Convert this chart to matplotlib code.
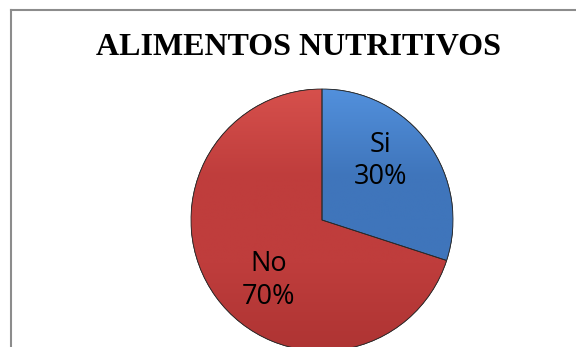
import numpy as np
import matplotlib
matplotlib.use("Agg")
import matplotlib.pyplot as plt
from matplotlib.patches import Wedge
from matplotlib.lines import Line2D

# Data
categories = ["Si", "No"]
values = [30, 70]
pct_labels = ["30%", "70%"]
title = "ALIMENTOS NUTRITIVOS"

colors_mid = ["#3F75BB", "#BF3D3C"]
colors_top = ["#5290DC", "#D6504C"]
colors_bot = ["#3566A8", "#AE3433"]
label_xy = [(0.45, 0.45), (-0.41, -0.46)]

W, H = 576, 347
fig = plt.figure(figsize=(W / 100, H / 100), dpi=100)
fig.patch.set_facecolor("white")

# Outer chart frame (only top and left edges visible, cropped)
fx, fy = 10.5 / W, 1 - 9.5 / H
fig.lines.append(Line2D([fx, 1.0], [fy, fy], transform=fig.transFigure,
                        color="#8c8c8c", linewidth=1.5))
fig.lines.append(Line2D([fx, fx], [0.0, fy], transform=fig.transFigure,
                        color="#8c8c8c", linewidth=1.5))

fig.text(299 / W, 1 - 47.5 / H, title, ha="center", va="center",
         fontsize=23, fontweight="bold", family="Liberation Serif", color="black")

cx, cy, r = 322, 220, 131
ax = fig.add_axes([(cx - r) / W, (H - cy - r) / H, 2 * r / W, 2 * r / H])
ax.axis("off")

wedges, _ = ax.pie(values, colors=colors_mid, startangle=90, counterclock=False,
                   radius=1, center=(0, 0),
                   wedgeprops=dict(edgecolor="#2a2a2a", linewidth=0.6))
ax.set_xlim(-1, 1)
ax.set_ylim(-1, 1)
ax.set_aspect("equal")

# vertical gradient shading clipped to each wedge
yy = np.linspace(1, 0, 256).reshape(-1, 1)
for w, ct, cm, cb in zip(wedges, colors_top, colors_mid, colors_bot):
    cmap = matplotlib.colors.LinearSegmentedColormap.from_list("g", [cb, cm, cm, ct])
    im = ax.imshow(np.tile(yy, (1, 2)), cmap=cmap, extent=(-1, 1, -1, 1),
                   origin="upper", aspect="auto", zorder=w.get_zorder() + 0.1,
                   vmin=0, vmax=1)
    im.set_clip_path(w)
    ax.add_patch(Wedge((0, 0), 1, w.theta1, w.theta2, fill=False,
                       edgecolor="#2a2a2a", linewidth=0.6,
                       zorder=w.get_zorder() + 0.2))
ax.set_xlim(-1, 1)
ax.set_ylim(-1, 1)

for cat, pct, (lx, ly) in zip(categories, pct_labels, label_xy):
    ax.text(lx, ly, f"{cat}\n{pct}", ha="center", va="center", fontsize=19.5,
            family="Open Sans", color="black", linespacing=1.22, zorder=10)

fig.savefig("out.png", dpi=100, facecolor="white")
